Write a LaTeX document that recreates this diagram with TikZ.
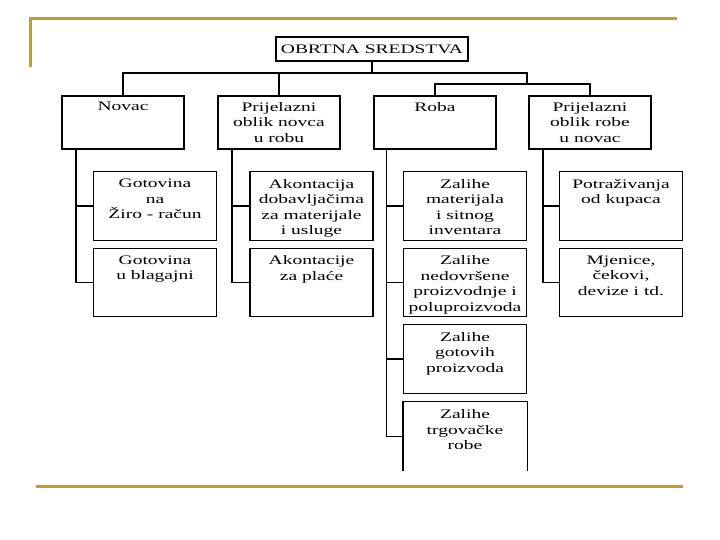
\documentclass[tikz,border=0pt]{standalone}
\usepackage{fontspec}
\setmainfont{Liberation Serif}[FakeStretch=1.5]
\usepackage{tikz}
\usetikzlibrary{calc}
\definecolor{goldline}{HTML}{BF9F2C}

\tikzset{
  box/.style={draw, line width=1.4pt, minimum width=122pt, minimum height=53pt, inner sep=0pt},
  subbox/.style={draw, line width=1.4pt, minimum width=123pt, minimum height=68.5pt, inner sep=0pt},
  txt/.style={anchor=north, align=center, inner sep=0pt, font=\fontsize{13}{15.5}\selectfont},
  conn/.style={line width=1.4pt},
}

\begin{document}
\begin{tikzpicture}[x=1pt,y=-1pt]
\useasboundingbox (0,0) rectangle (720,540);
% okvir slajda
\draw[goldline,line width=3pt] (30.2,66.7) -- (30.2,18.3) -- (677,18.3);
\draw[goldline,line width=3pt] (36,486.2) -- (683,486.2);

% vrh
\node[draw, line width=1.4pt, minimum width=192pt, minimum height=24pt, inner sep=0pt,
      font=\fontsize{13}{15.5}\selectfont] (os) at (372,49) {OBRTNA SREDSTVA};

% prva razina
\node[box,label={[txt,yshift=-6.5pt]north:{Novac}}] (novac) at (123,122.5) {};
\node[box,label={[txt,yshift=-6.5pt]north:{Prijelazni\\oblik novca\\u robu}}] (pno) at (279,122.5) {};
\node[box,label={[txt,yshift=-6.5pt]north:{Roba}}] (roba) at (435,122.5) {};
\node[box,label={[txt,yshift=-6.5pt]north:{Prijelazni\\oblik robe\\u novac}}] (pnr) at (590,122.5) {};

% druga razina
\node[subbox,label={[txt,yshift=-8pt]north:{Gotovina\\na\\Žiro - račun}}] (gz) at (155,206) {};
\node[subbox,label={[txt,yshift=-8pt]north:{Gotovina\\u blagajni}}] (gb) at (155,282.5) {};
\node[subbox,label={[txt,yshift=-8pt]north:{Akontacija\\dobavljačima\\za materijale\\i usluge}}] (ad) at (311.5,206) {};
\node[subbox,label={[txt,yshift=-8pt]north:{Akontacije\\za plaće}}] (ap) at (311.5,282.5) {};
\node[subbox,label={[txt,yshift=-8pt]north:{Zalihe\\materijala\\i sitnog\\inventara}}] (zm) at (465,206) {};
\node[subbox,label={[txt,yshift=-8pt]north:{Zalihe\\nedovršene\\proizvodnje i\\poluproizvoda}}] (zn) at (465,282.5) {};
\node[subbox,label={[txt,yshift=-8pt]north:{Zalihe\\gotovih\\proizvoda}}] (zg) at (465,359) {};
\node[subbox,draw=none,label={[txt,yshift=-8pt]north:{Zalihe\\trgovačke\\robe}}] (zt) at (465,436.5) {};
\draw[line width=1.4pt] (zt.south west) -- (zt.north west) -- (zt.north east) -- (zt.south east);
\node[subbox,label={[txt,yshift=-8pt]north:{Potraživanja\\od kupaca}}] (pk) at (621,206) {};
\node[subbox,label={[txt,yshift=-8pt]north:{Mjenice,\\čekovi,\\devize i td.}}] (mj) at (621,282.5) {};

% veze
\coordinate (bus) at (527,73);
\coordinate (bus2) at (527,84);
\draw[conn] (os.south) -- (os.south |- bus);
\draw[conn] (novac.north) |- (bus) -- (bus2);
\draw[conn] (pno.north) -- (pno.north |- bus);
\draw[conn] (roba.north) |- (bus2) -| (pnr.north);

\foreach \up/\a/\b in {novac/gz/gb, pno/ad/ap, pnr/pk/mj} {
  \coordinate (t) at ([xshift=14.5pt]\up.south west);
  \draw[conn] (t) |- (\b.west);
  \draw[conn] (t |- \a.west) -- (\a.west);
}
\coordinate (tr) at ([xshift=13pt]roba.south west);
\draw[conn] (tr) |- (zt.west);
\foreach \z in {zm, zn, zg}
  \draw[conn] (tr |- \z.west) -- (\z.west);
\end{tikzpicture}
\end{document}
